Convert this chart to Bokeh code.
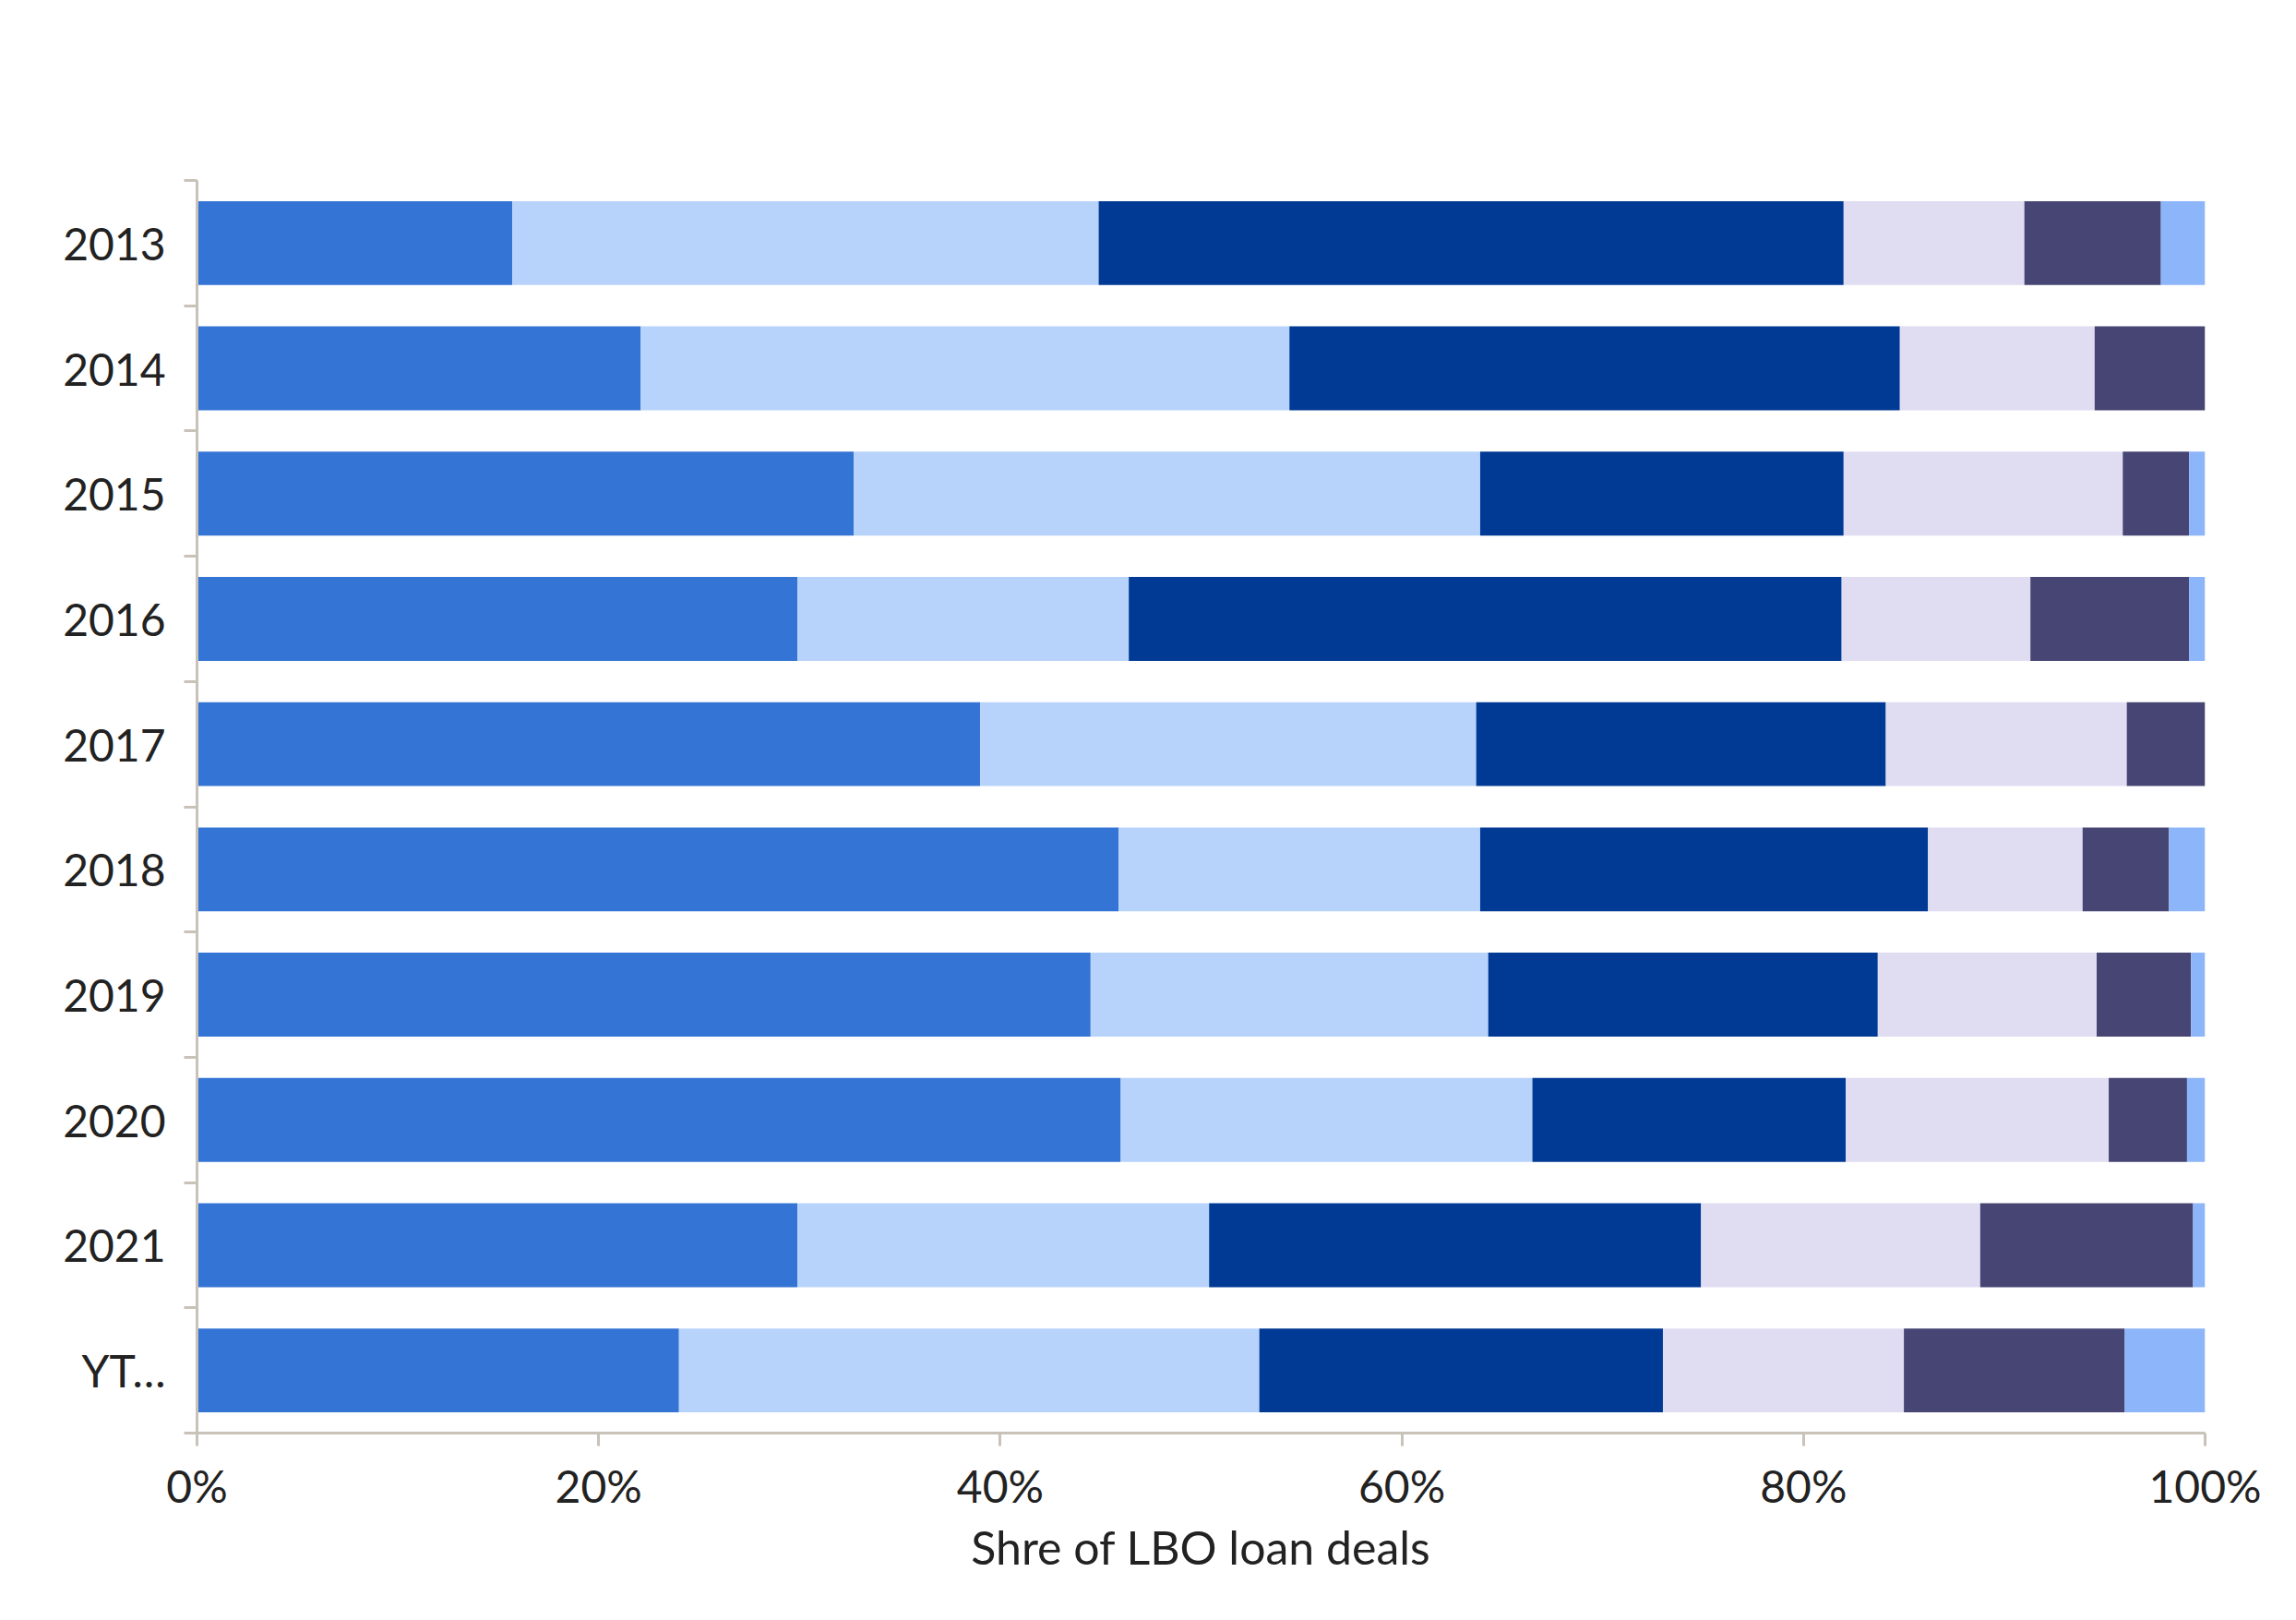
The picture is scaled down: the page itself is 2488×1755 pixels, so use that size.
from bokeh.plotting import figure
from bokeh.models import ColumnDataSource, FixedTicker, Range1d, Legend, LegendItem, NumeralTickFormatter
from bokeh.embed import file_html
from bokeh.resources import INLINE

categories = ["2013", "2014", "2015", "2016", "2017", "2018", "2019", "2020", "2021", "YT…"]
series = ["<250m", "250 to <500m", "500m to <1bn", "1bn to <2bn", "2bn to <5bn", ">=5bn"]
lt250 = [15.7, 22.1, 32.7, 29.9, 39.0, 45.9, 44.5, 46.0, 29.9, 24.0]
s250_500 = [29.2, 32.3, 31.2, 16.5, 24.7, 18.0, 19.8, 20.5, 20.5, 28.9]
s500_1bn = [37.1, 30.4, 18.1, 35.5, 20.4, 22.3, 19.4, 15.6, 24.5, 20.1]
s1_2bn = [9.0, 9.7, 13.9, 9.4, 12.0, 7.7, 10.9, 13.1, 13.9, 12.0]
s2_5bn = [6.8, 5.5, 3.3, 7.9, 3.9, 4.3, 4.7, 3.9, 10.6, 11.0]
ge5bn = [2.2, 0.0, 0.8, 0.8, 0.0, 1.8, 0.7, 0.9, 0.6, 4.0]
colors = ["#3474d4", "#b7d3fc", "#003a94", "#e0dcf2", "#464574", "#8db5fa"]

n = len(categories)
ypos = [float(n - 1 - i) for i in range(n)]
data = dict(y=ypos)
cols = [lt250, s250_500, s500_1bn, s1_2bn, s2_5bn, ge5bn]
keys = ["a", "b", "c", "d", "e", "f"]
for k, c in zip(keys, cols):
    data[k] = [v / 100 for v in c]
src = ColumnDataSource(data)

p = figure(width=2470, height=1735, output_backend="svg", toolbar_location=None,
           x_range=Range1d(0, 1), y_range=Range1d(-0.5, n - 0.5),
           min_border_left=213, min_border_right=81, min_border_top=195, min_border_bottom=183)
rs = p.hbar_stack(keys, y="y", height=0.67, color=colors, source=src, line_width=0)

p.xgrid.visible = False
p.ygrid.visible = False
p.outline_line_color = None

axc = "#c8c2b8"
p.xaxis.ticker = FixedTicker(ticks=[0, 0.2, 0.4, 0.6, 0.8, 1.0])
p.xaxis.formatter = NumeralTickFormatter(format="0%")
p.xaxis.axis_line_color = axc
p.xaxis.axis_line_width = 3
p.xaxis.major_tick_line_color = axc
p.xaxis.major_tick_line_width = 3
p.xaxis.major_tick_out = 14
p.xaxis.major_tick_in = 0
p.xaxis.minor_tick_line_color = None
p.xaxis.axis_label = "Shre of LBO loan deals"

p.yaxis.ticker = FixedTicker(ticks=ypos, minor_ticks=[i - 0.5 for i in range(n + 1)])
p.yaxis.major_label_overrides = {y: c for y, c in zip(ypos, categories)}
p.yaxis.axis_line_color = axc
p.yaxis.axis_line_width = 3
p.yaxis.major_tick_line_color = None
p.yaxis.minor_tick_line_color = axc
p.yaxis.minor_tick_line_width = 3
p.yaxis.minor_tick_out = 14
p.yaxis.minor_tick_in = 0

for ax in (p.xaxis, p.yaxis):
    ax.major_label_text_font = "Lato"
    ax.major_label_text_font_size = "48px"
    ax.major_label_text_color = "#222222"
    ax.axis_label_text_font = "Lato"
    ax.axis_label_text_font_size = "50px"
    ax.axis_label_text_font_style = "normal"
    ax.axis_label_text_color = "#222222"
p.xaxis.major_label_standoff = 14
p.yaxis.major_label_standoff = 20

legend = Legend(items=[LegendItem(label=s, renderers=[r]) for s, r in zip(series, rs)],
                orientation="horizontal", location=(-20, 1385),
                label_text_font="Lato", label_text_font_size="48px", label_text_color="#222222",
                glyph_width=36, glyph_height=36, spacing=44, label_standoff=10,
                border_line_color=None, background_fill_alpha=0, margin=0, padding=10)
p.add_layout(legend, "center")

open("out.html", "w").write(file_html(p, INLINE))
